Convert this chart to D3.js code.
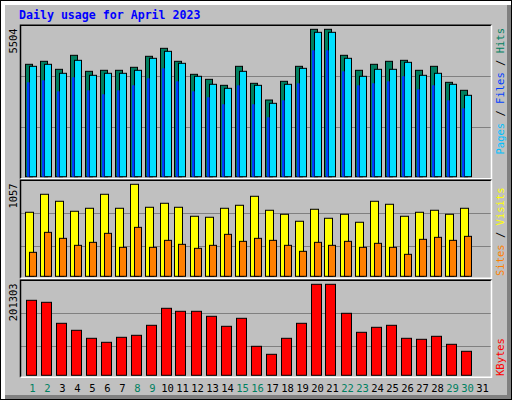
<!DOCTYPE html>
<html><head><meta charset="utf-8">
<script src="https://cdn.jsdelivr.net/npm/d3@7"></script>
<style>body{margin:0;background:#fff}svg{display:block}</style>
</head><body>
<svg id="c" width="512" height="400"></svg>
<script>
const days = d3.range(1, 32);
const weekendDays = [1,2,8,9,15,16,22,23,29,30];
const hits  = [4086,4195,3904,4413,3831,3868,3868,3977,4377,4667,4195,3722,3540,3322,4013,3395,2788,3468,4013,5358,5358,4413,3868,4086,4195,4231,3868,4013,3431,3141];
const files = [4013,4086,3759,4231,3686,3759,3759,3868,4304,4558,4122,3650,3359,3213,3831,3322,2668,3359,3940,5249,5249,4304,3650,3904,3904,4158,3686,3759,3359,2959];
const pages = [3431,3504,3104,3613,3141,2995,3141,3322,3577,3940,3468,3104,2886,2632,3322,2632,2159,2777,3395,4595,4595,3831,3322,3395,3468,3650,3177,3322,2777,2486];
const visits= [705,903,826,716,749,903,749,1013,760,804,760,661,650,749,782,881,727,683,606,738,639,683,595,826,793,661,705,727,683,749];
const sites = [264,484,418,341,374,473,319,539,319,396,352,308,341,462,385,418,396,341,275,374,341,385,319,363,319,242,407,429,396,440];
const kbytes= [158923,154687,110188,95357,78405,69929,80524,84760,105950,141973,135616,135616,125021,103831,120784,61451,44499,78405,110188,192831,192831,131378,91117,101712,105950,78405,76285,82641,65690,50856];
const maxHits = 5504, maxVisits = 1057, maxKB = 201303;
const title = "Daily usage for April 2023";

const svg = d3.select("#c");
const mono = "DejaVu Sans Mono, Liberation Mono, monospace";
// background & bevel
svg.append("rect").attr("width",512).attr("height",400).attr("fill","#fff");
svg.append("rect").attr("x",5).attr("y",5).attr("width",507).attr("height",395).attr("fill","#808080");
svg.append("rect").attr("x",5).attr("y",5).attr("width",502).attr("height",390).attr("fill","#C0C0C0");
svg.append("rect").attr("x",0.5).attr("y",0.5).attr("width",511).attr("height",399).attr("fill","none").attr("stroke","#000");

svg.append("text").attr("x",19).attr("y",19).attr("fill","#0000FF").attr("font-family",mono)
  .attr("font-weight","bold").attr("font-size",11.6).text(title);

const x = d3.scaleLinear().domain([1,31]).range([32.5, 482.5]);
const L = 20.5, R = 491.5;

function panel(top, bottom, max, gridFracs, label){
  const y = d3.scaleLinear().domain([0,max]).range([bottom, top]);
  const g = svg.append("g");
  g.append("rect").attr("x",L).attr("y",top).attr("width",R-L).attr("height",bottom-top+1.5).attr("fill","#C0C0C0");
  gridFracs.forEach(f=>{
    g.append("line").attr("x1",L).attr("x2",R).attr("y1",Math.round(y(max*f))+0.5).attr("y2",Math.round(y(max*f))+0.5).attr("stroke","#808080");
  });
  g.append("path").attr("d",`M${L},${bottom+2}V${top}H${R}`).attr("fill","none").attr("stroke","#000").attr("stroke-width",1.5);
  g.append("path").attr("d",`M${R},${top}V${bottom+2}H${L}`).attr("fill","none").attr("stroke","#fff").attr("stroke-width",1.5);
  g.append("text").attr("transform",`translate(17,${top+3}) rotate(-90)`).attr("text-anchor","end")
    .attr("font-family",mono).attr("font-size",10.5).attr("fill","#000").text(label);
  return y;
}

function bars(data, y, base, dx, w, color){
  svg.append("g").selectAll("rect").data(data).join("rect")
    .attr("x",(d,i)=>Math.round(x(i+1))+dx+0.5).attr("width",w)
    .attr("y",d=>y(d)).attr("height",d=>base-y(d))
    .attr("fill",color).attr("stroke","#000").attr("stroke-width",1);
}

// top panel
const yT = panel(25.3, 176.7, maxHits, [0.663,0.326], String(maxHits));
bars(hits, yT, 176.7, -8, 7, "#008060");
bars(files, yT, 176.7, -4, 7, "#00E0FF");
svg.append("g").selectAll("rect").data(pages).join("rect")
  .attr("x",(d,i)=>Math.round(x(i+1))-6).attr("width",2.5)
  .attr("y",d=>yT(d)).attr("height",d=>176.7-yT(d)).attr("fill","#0040FF");

// middle panel
const yM = panel(180.3, 276.3, maxVisits, [0.656,0.3125], String(maxVisits));
bars(visits, yM, 276.3, -8, 8, "#FFFF00");
bars(sites, yM, 276.3, -4, 7, "#FF8000");

// bottom panel
const yB = panel(280.3, 375.3, maxKB, [0.653,0.305], String(maxKB));
bars(kbytes, yB, 375.3, -7, 10, "#FF0000");

// right labels
function rlabel(parts, ytop, anchor){
  const t = svg.append("text").attr("transform",`translate(504,${ytop}) rotate(-90)`).attr("text-anchor",anchor)
    .attr("font-family",mono).attr("font-size",10.5);
  parts.forEach(p=>t.append("tspan").attr("fill",p[1]).text(p[0]));
}
rlabel([["Pages","#00C0FF"],[" / ","#000"],["Files","#0040FF"],[" / ","#000"],["Hits","#008060"]], 28, "end");
rlabel([["Sites","#FF8000"],[" / ","#000"],["Visits","#FFFF00"]], 276, "start");
rlabel([["KBytes","#FF0000"]], 376, "start");

// day labels
svg.append("g").selectAll("text").data(days).join("text")
  .attr("x",d=>x(d)).attr("y",392).attr("text-anchor","middle")
  .attr("font-family",mono).attr("font-size",10.5)
  .attr("fill",d=>weekendDays.includes(d)?"#008060":"#000").text(d=>d);
</script>
</body></html>
